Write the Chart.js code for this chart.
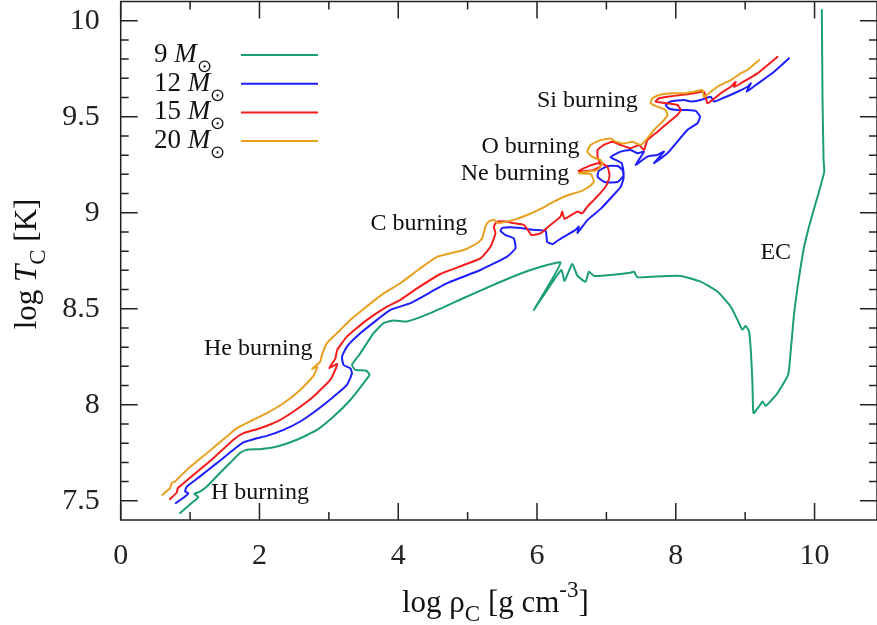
<!DOCTYPE html>
<html>
<head>
<meta charset="utf-8">
<title>Central density - central temperature tracks</title>
<script src="https://cdn.jsdelivr.net/npm/chart.js@4.4.1/dist/chart.umd.min.js"></script>
<style>
  html, body { margin: 0; padding: 0; background: #fff; }
  #wrap { width: 877px; height: 625px; }
</style>
</head>
<body>
<div id="wrap"><canvas id="tracks" width="877" height="625"></canvas></div>
<script>
// log rho_c [g cm^-3] and log T_c [K] along each evolutionary track
var masses = [9, 12, 15, 20];

var rho9 = [0.856, 1.048, 1.120, 1.058, 1.144, 1.241, 1.433, 1.620, 1.722, 1.818, 2.010, 2.251, 2.540, 2.828,
  3.068, 3.309, 3.501, 3.587, 3.540, 3.381, 3.333, 3.453, 3.645, 3.789, 3.934, 4.127, 4.463, 4.944, 5.426,
  5.906, 6.339, 5.954, 6.349, 6.397, 6.508, 6.584, 6.700, 6.748, 6.820, 7.061, 7.349, 7.397, 7.446, 7.638,
  8.071, 8.359, 8.600, 8.792, 8.889, 8.961, 9.009, 9.056, 9.081, 9.105, 9.120, 9.200, 9.250, 9.297, 9.466,
  9.619, 9.658, 9.706, 9.778, 9.850, 9.947, 10.043, 10.139, 10.130, 10.115, 10.105];
var temp9 = [7.436, 7.496, 7.519, 7.536, 7.548, 7.574, 7.646, 7.713, 7.750, 7.766, 7.769, 7.783, 7.818, 7.869,
  7.939, 8.025, 8.113, 8.156, 8.177, 8.182, 8.208, 8.268, 8.373, 8.425, 8.439, 8.434, 8.477, 8.556, 8.633,
  8.702, 8.740, 8.494, 8.702, 8.645, 8.733, 8.671, 8.641, 8.693, 8.671, 8.676, 8.688, 8.693, 8.664, 8.667,
  8.671, 8.641, 8.590, 8.511, 8.442, 8.391, 8.411, 8.381, 8.286, 8.113, 7.957, 7.991, 8.017, 7.994, 8.061,
  8.156, 8.286, 8.477, 8.667, 8.823, 8.963, 9.083, 9.213, 9.275, 9.587, 10.056];

var rho12 = [0.794, 0.928, 0.975, 0.928, 0.952, 1.144, 1.385, 1.625, 1.769, 1.962, 2.107, 2.346, 2.587, 2.828,
  3.068, 3.261, 3.333, 3.309, 3.212, 3.189, 3.261, 3.453, 3.694, 3.886, 4.175, 4.704, 5.185, 5.570, 5.690,
  5.665, 5.545, 5.473, 5.502, 5.618, 5.762, 5.935, 6.123, 6.147, 6.224, 6.310, 6.556, 6.603, 6.584, 6.729,
  6.917, 7.104, 7.205, 7.248, 7.234, 7.162, 7.018, 6.888, 6.874, 6.975, 7.162, 7.248, 7.219, 7.060, 7.205,
  7.349, 7.446, 7.541, 7.421, 7.590, 7.734, 7.830, 7.686, 7.879, 8.167, 8.312, 8.349, 8.287, 8.167, 8.023,
  7.902, 7.854, 7.926, 8.118, 8.215, 8.359, 8.503, 8.551, 8.672, 8.889, 9.033, 9.081, 9.023, 9.153, 9.417, 9.633];
var temp12 = [7.488, 7.522, 7.540, 7.548, 7.574, 7.627, 7.696, 7.766, 7.804, 7.826, 7.838, 7.869, 7.913, 7.973,
  8.042, 8.104, 8.164, 8.190, 8.207, 8.250, 8.303, 8.372, 8.442, 8.494, 8.529, 8.633, 8.702, 8.772, 8.815,
  8.867, 8.884, 8.906, 8.921, 8.925, 8.920, 8.911, 8.906, 8.848, 8.837, 8.858, 8.911, 8.928, 8.895, 8.963,
  9.020, 9.093, 9.134, 9.181, 9.222, 9.243, 9.243, 9.217, 9.186, 9.160, 9.160, 9.196, 9.259, 9.290, 9.318,
  9.327, 9.310, 9.318, 9.249, 9.292, 9.301, 9.318, 9.258, 9.310, 9.431, 9.466, 9.500, 9.530, 9.535, 9.535,
  9.543, 9.561, 9.579, 9.587, 9.579, 9.587, 9.604, 9.579, 9.596, 9.630, 9.656, 9.674, 9.630, 9.665, 9.734, 9.804];

var rho15 = [0.711, 0.808, 0.823, 0.880, 1.048, 1.336, 1.625, 1.769, 2.010, 2.251, 2.491, 2.779, 3.020, 3.092,
  3.121, 3.006, 3.092, 3.121, 3.261, 3.550, 3.838, 4.030, 4.271, 4.608, 4.944, 5.185, 5.329, 5.401, 5.377,
  5.426, 5.545, 5.665, 5.810, 5.859, 5.921, 6.051, 6.195, 6.339, 6.364, 6.397, 6.580, 6.652, 6.724, 6.820,
  6.916, 7.003, 7.046, 7.017, 6.916, 6.743, 6.599, 6.801, 6.916, 6.873, 6.873, 6.964, 7.085, 7.205, 7.349,
  7.469, 7.541, 7.590, 7.734, 7.879, 8.023, 8.071, 8.023, 7.879, 7.710, 7.758, 7.879, 8.071, 8.263, 8.407,
  8.456, 8.528, 8.648, 8.792, 8.864, 8.840, 8.936, 9.177, 9.466];
var temp15 = [7.509, 7.543, 7.566, 7.583, 7.635, 7.722, 7.818, 7.852, 7.878, 7.912, 7.965, 8.043, 8.130, 8.182,
  8.213, 8.192, 8.239, 8.286, 8.355, 8.442, 8.511, 8.546, 8.606, 8.681, 8.728, 8.762, 8.823, 8.893, 8.928,
  8.954, 8.954, 8.946, 8.937, 8.915, 8.884, 8.893, 8.937, 8.980, 9.006, 8.968, 9.006, 8.997, 9.031, 9.067,
  9.103, 9.145, 9.191, 9.238, 9.259, 9.243, 9.217, 9.222, 9.243, 9.291, 9.327, 9.353, 9.370, 9.353, 9.336,
  9.353, 9.327, 9.378, 9.421, 9.466, 9.509, 9.535, 9.561, 9.570, 9.579, 9.596, 9.604, 9.613, 9.622, 9.630,
  9.570, 9.587, 9.622, 9.656, 9.682, 9.655, 9.674, 9.726, 9.812];

var rho20 = [0.600, 0.711, 0.736, 0.784, 0.952, 1.241, 1.530, 1.674, 1.913, 2.107, 2.346, 2.587, 2.779, 2.833,
  2.760, 2.876, 2.900, 2.973, 3.117, 3.309, 3.501, 3.789, 4.030, 4.319, 4.560, 4.944, 5.137, 5.209, 5.257,
  5.304, 5.377, 5.444, 5.665, 5.859, 6.051, 6.242, 6.436, 6.628, 6.743, 6.820, 6.772, 6.603, 6.685, 6.869,
  6.941, 6.916, 6.797, 6.724, 6.772, 6.916, 7.061, 7.133, 7.253, 7.374, 7.494, 7.590, 7.686, 7.830, 7.879,
  7.854, 7.734, 7.638, 7.662, 7.758, 7.926, 8.118, 8.263, 8.384, 8.407, 8.600, 8.792, 8.936, 9.033, 9.201];
var temp20 = [7.531, 7.566, 7.593, 7.601, 7.661, 7.748, 7.835, 7.878, 7.922, 7.957, 8.008, 8.077, 8.151, 8.197,
  8.187, 8.225, 8.260, 8.321, 8.373, 8.442, 8.499, 8.580, 8.633, 8.711, 8.770, 8.806, 8.841, 8.867, 8.928,
  8.954, 8.963, 8.947, 8.963, 8.988, 9.020, 9.058, 9.090, 9.111, 9.134, 9.162, 9.202, 9.205, 9.213, 9.222,
  9.257, 9.274, 9.291, 9.318, 9.353, 9.378, 9.387, 9.370, 9.361, 9.370, 9.353, 9.387, 9.431, 9.483, 9.509,
  9.535, 9.552, 9.570, 9.596, 9.613, 9.622, 9.622, 9.630, 9.639, 9.604, 9.656, 9.691, 9.726, 9.743, 9.795];

var xTicks = [0, 2, 4, 6, 8, 10];
var yTicks = [7.5, 8, 8.5, 9, 9.5, 10];

// burning phase labels, anchored at their left baseline in data units
var phaseNames = ['H burning', 'He burning', 'C burning', 'Ne burning', 'O burning', 'Si burning', 'EC'];
var phaseRho = [1.30, 1.20, 3.60, 4.90, 5.20, 6.00, 9.22];
var phaseTemp = [7.509, 8.260, 8.911, 9.171, 9.310, 9.553, 8.758];

var colors = ['#1b9e77', '#1e1eff', '#f41c1c', '#e8a020'];
var SERIF = "'Liberation Serif', 'Times New Roman', serif";

function points(xs, ys) {
  return xs.map(function (x, i) { return { x: x, y: ys[i] }; });
}

function runWidth(ctx, runs) {
  var w = 0;
  runs.forEach(function (r) { ctx.font = r.font; w += ctx.measureText(r.text).width; });
  return w;
}

function drawRuns(ctx, runs, x, y) {
  runs.forEach(function (r) {
    ctx.font = r.font;
    ctx.fillText(r.text, x, y + (r.dy || 0));
    x += ctx.measureText(r.text).width;
  });
}

var tracks = [[rho9, temp9], [rho12, temp12], [rho15, temp15], [rho20, temp20]];

// gnuplot style box: inward ticks on all four sides, titles, key and labels
var decorations = {
  id: 'decorations',
  afterDraw: function (chart) {
    var ctx = chart.ctx, a = chart.chartArea;
    var xs = chart.scales.x, ys = chart.scales.y;
    var i, v, len, px, py;

    ctx.save();
    ctx.strokeStyle = '#222';
    ctx.lineWidth = 1.5;
    ctx.strokeRect(a.left, a.top, a.right - a.left, a.bottom - a.top);
    ctx.beginPath();
    for (v = 0; v <= 10; v++) {
      len = v % 2 === 0 ? 17 : 8;
      px = xs.getPixelForValue(v);
      ctx.moveTo(px, a.bottom); ctx.lineTo(px, a.bottom - len);
      ctx.moveTo(px, a.top); ctx.lineTo(px, a.top + len);
    }
    for (i = 75; i <= 100; i++) {
      len = i % 5 === 0 ? 17 : 8;
      py = ys.getPixelForValue(i / 10);
      ctx.moveTo(a.left, py); ctx.lineTo(a.left + len, py);
      ctx.moveTo(a.right, py); ctx.lineTo(a.right - len, py);
    }
    ctx.stroke();

    ctx.fillStyle = '#111';
    ctx.textBaseline = 'alphabetic';
    ctx.textAlign = 'left';

    // axis titles
    var big = '31px ' + SERIF, small = '23px ' + SERIF;
    drawRuns(ctx, [
      { text: 'log \u03c1', font: big },
      { text: 'C', font: small, dy: 9 },
      { text: ' [g cm', font: big },
      { text: '-3', font: small, dy: -15 },
      { text: ']', font: big }
    ], 402, 612);

    var yRuns = [
      { text: 'log ', font: big },
      { text: 'T', font: 'italic ' + big },
      { text: 'C', font: small, dy: 9 },
      { text: ' [K]', font: big }
    ];
    ctx.save();
    ctx.translate(36, 264);
    ctx.rotate(-Math.PI / 2);
    drawRuns(ctx, yRuns, -runWidth(ctx, yRuns) / 2, 0);
    ctx.restore();

    // key
    var keyFont = '27px ' + SERIF;
    chart.data.datasets.forEach(function (ds, k) {
      var rowY = 55 + k * 28.7;
      drawRuns(ctx, [
        { text: masses[k] + ' ', font: keyFont },
        { text: 'M', font: 'italic ' + keyFont },
        { text: '\u2299', font: '18px ' + SERIF, dy: 10 }
      ], 154, rowY + 7);
      ctx.strokeStyle = ds.borderColor;
      ctx.lineWidth = 2;
      ctx.beginPath();
      ctx.moveTo(241, rowY);
      ctx.lineTo(318, rowY);
      ctx.stroke();
    });

    // burning phases
    ctx.font = '24px ' + SERIF;
    phaseNames.forEach(function (name, k) {
      ctx.fillText(name, xs.getPixelForValue(phaseRho[k]), ys.getPixelForValue(phaseTemp[k]));
    });
    ctx.restore();
  }
};

new Chart(document.getElementById('tracks'), {
  type: 'scatter',
  data: {
    datasets: masses.map(function (m, k) {
      return {
        label: m + ' M\u2299',
        data: points(tracks[k][0], tracks[k][1]),
        showLine: true,
        borderColor: colors[k],
        backgroundColor: colors[k],
        borderWidth: 2,
        borderJoinStyle: 'round',
        borderCapStyle: 'round',
        pointRadius: 0,
        tension: 0.15,
        order: masses.length - k
      };
    })
  },
  options: {
    responsive: false,
    animation: false,
    devicePixelRatio: 1,
    layout: { padding: { top: 1.5, right: 0, bottom: 0, left: 0 } },
    plugins: {
      legend: { display: false },
      tooltip: { enabled: false }
    },
    scales: {
      x: {
        type: 'linear',
        min: 0,
        max: 10.9,
        afterFit: function (s) { s.height = 105; s.paddingLeft = 0; s.paddingRight = 0; },
        afterBuildTicks: function (s) { s.ticks = xTicks.map(function (v) { return { value: v }; }); },
        grid: { display: false, drawTicks: false },
        border: { display: false },
        ticks: { color: '#222', font: { family: SERIF, size: 30 }, padding: 18, maxRotation: 0, autoSkip: false }
      },
      y: {
        type: 'linear',
        min: 7.4,
        max: 10.1,
        afterFit: function (s) { s.width = 120.7; s.paddingTop = 0; s.paddingBottom = 0; },
        afterBuildTicks: function (s) { s.ticks = yTicks.map(function (v) { return { value: v }; }); },
        grid: { display: false, drawTicks: false },
        border: { display: false },
        ticks: {
          color: '#222',
          font: { family: SERIF, size: 30 },
          padding: 21,
          autoSkip: false,
          callback: function (v) { return String(v); }
        }
      }
    }
  },
  plugins: [decorations]
});
</script>
</body>
</html>
